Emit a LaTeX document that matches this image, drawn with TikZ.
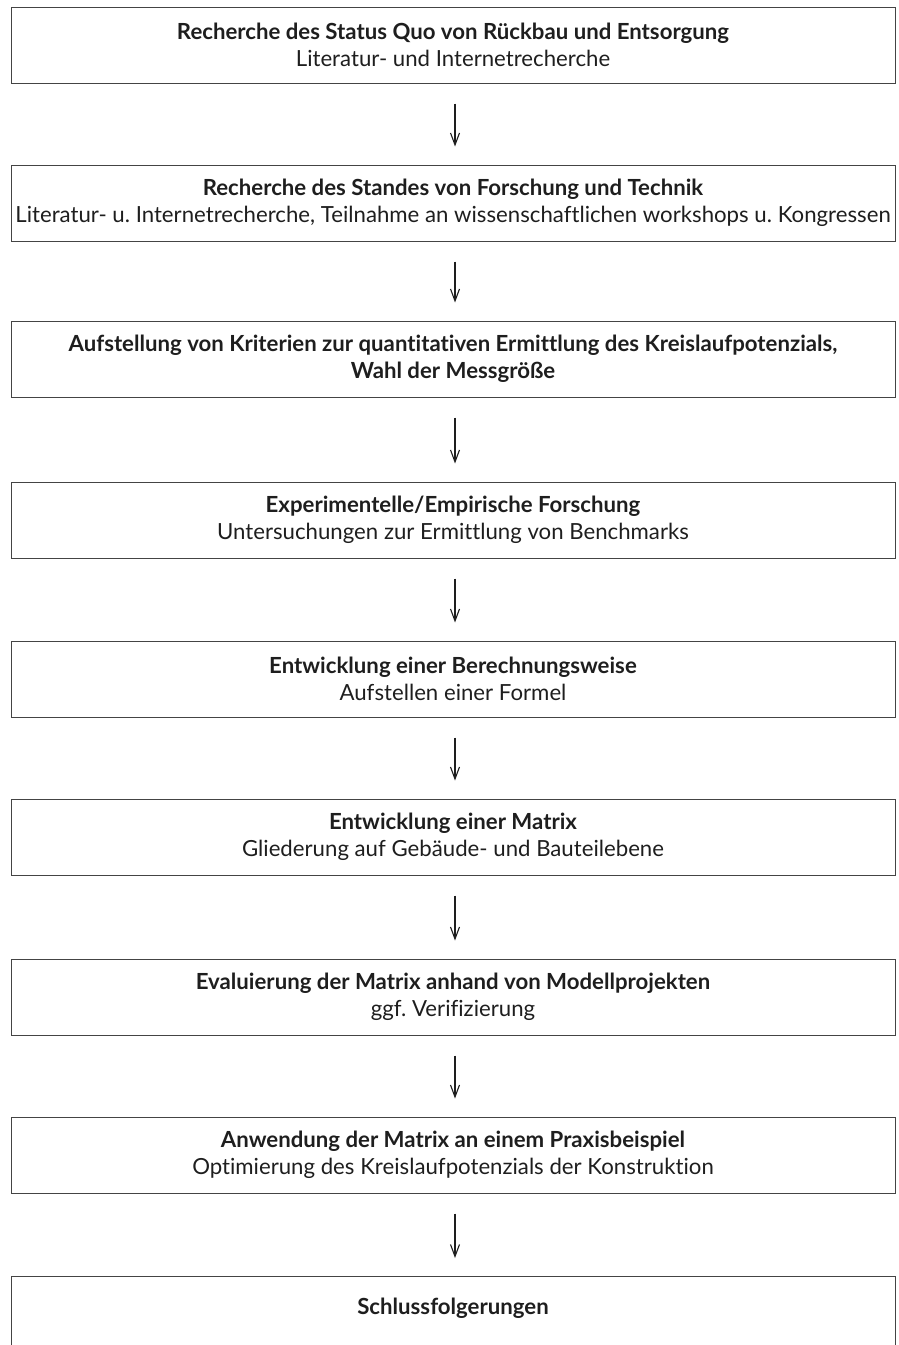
\documentclass[tikz,border=0pt]{standalone}
\usepackage{fontspec}
\setmainfont{Lato}[RawFeature=-liga]
\usetikzlibrary{arrows.meta}
\definecolor{ink}{HTML}{1E1E1E}
\definecolor{edge}{HTML}{444444}
\frenchspacing
\begin{document}
\begin{tikzpicture}[x=1pt,y=-1pt,
  stepbox/.style={draw=edge, line width=1pt, minimum width=884pt, minimum height=76pt,
    inner sep=0pt, align=center, text=ink, font=\fontsize{22.2}{27}\selectfont},
  lbl/.style={text=ink, font=\fontsize{22.2}{27}\selectfont, inner sep=0pt},
  arr/.style={draw=ink, line width=1.1pt, -{Straight Barb[length=12pt,width=9pt]},
    shorten <=20pt, shorten >=18pt}]
\clip (0,0) rectangle (899,1345);
\node[stepbox] (b1) at (453,45) {\textbf{Recherche des Status Quo von Rückbau und Entsorgung}\\Literatur- und Internetrecherche};
\node[stepbox] (b2) at (453,203) {\textbf{Recherche des Standes von Forschung und Technik}\\Literatur- u. Internetrecherche, Teilnahme an wissenschaftlichen workshops u. Kongressen};
\node[stepbox] (b3) at (453,359) {\textbf{Aufstellung von Kriterien zur quantitativen Ermittlung des Kreislaufpotenzials,}\\\textbf{Wahl der Messgröße}};
\node[stepbox] (b4) at (453,520) {\textbf{Experimentelle/Empirische Forschung}\\Untersuchungen zur Ermittlung von Benchmarks};
\node[stepbox] (b5) at (453,679) {\textbf{Entwicklung einer Berechnungsweise}\\Aufstellen einer Formel};
\node[stepbox] (b6) at (453,837) {\textbf{Entwicklung einer Matrix}\\Gliederung auf Gebäude- und Bauteilebene};
\node[stepbox] (b7) at (453,997) {\textbf{Evaluierung der Matrix anhand von Modellprojekten}\\ggf. Verifizierung};
\node[stepbox] (b8) at (453,1155) {\textbf{Anwendung der Matrix an einem Praxisbeispiel}\\Optimierung des Kreislaufpotenzials der Konstruktion};
\node[stepbox, anchor=north, minimum height=150pt] (b9) at (453,1276) {};
\node[lbl] (t9) at (453,1308) {\textbf{Schlussfolgerungen}};
\foreach \a/\b in {b1/b2,b2/b3,b3/b4,b4/b5,b5/b6,b6/b7,b7/b8,b8/b9}
  \draw[arr] ([xshift=2pt]\a.south) -- ([xshift=2pt]\b.north);
\end{tikzpicture}
\end{document}
